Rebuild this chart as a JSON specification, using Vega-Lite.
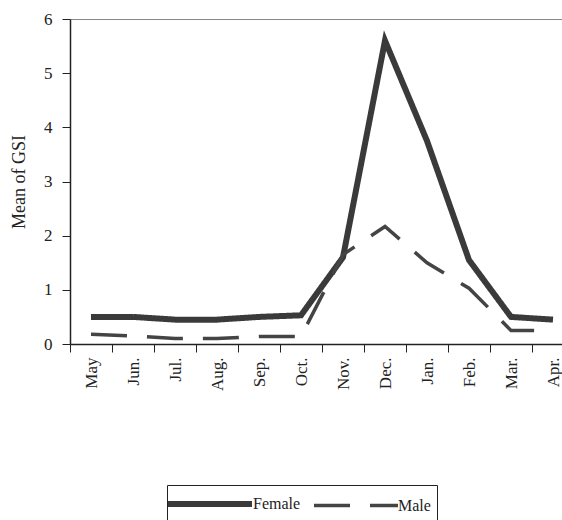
{
  "$schema": "https://vega.github.io/schema/vega-lite/v6.json",
  "autosize": {"type": "none"},
  "width": 492,
  "height": 325,
  "padding": {"left": 70, "top": 19, "right": 0, "bottom": 176},
  "background": "white",
  "config": {
    "view": {"stroke": null},
    "font": "Liberation Serif",
    "axis": {"labelFont": "Liberation Serif", "titleFont": "Liberation Serif", "labelColor": "#222", "titleColor": "#222", "domainColor": "#222", "tickColor": "#222"}
  },
  "data": {"values": [
    {"month": "May", "sex": "Female", "gsi": 0.5},
    {"month": "Jun.", "sex": "Female", "gsi": 0.5},
    {"month": "Jul.", "sex": "Female", "gsi": 0.45},
    {"month": "Aug.", "sex": "Female", "gsi": 0.45},
    {"month": "Sep.", "sex": "Female", "gsi": 0.5},
    {"month": "Oct.", "sex": "Female", "gsi": 0.53},
    {"month": "Nov.", "sex": "Female", "gsi": 1.6},
    {"month": "Dec.", "sex": "Female", "gsi": 5.6},
    {"month": "Jan.", "sex": "Female", "gsi": 3.75},
    {"month": "Feb.", "sex": "Female", "gsi": 1.55},
    {"month": "Mar.", "sex": "Female", "gsi": 0.5},
    {"month": "Apr.", "sex": "Female", "gsi": 0.45},
    {"month": "May", "sex": "Male", "gsi": 0.18},
    {"month": "Jun.", "sex": "Male", "gsi": 0.15},
    {"month": "Jul.", "sex": "Male", "gsi": 0.1},
    {"month": "Aug.", "sex": "Male", "gsi": 0.1},
    {"month": "Sep.", "sex": "Male", "gsi": 0.14},
    {"month": "Oct.", "sex": "Male", "gsi": 0.14},
    {"month": "Nov.", "sex": "Male", "gsi": 1.65},
    {"month": "Dec.", "sex": "Male", "gsi": 2.17},
    {"month": "Jan.", "sex": "Male", "gsi": 1.5},
    {"month": "Feb.", "sex": "Male", "gsi": 1.03},
    {"month": "Mar.", "sex": "Male", "gsi": 0.25},
    {"month": "Apr.", "sex": "Male", "gsi": 0.25}
  ]},
  "mark": {"type": "line", "strokeCap": "butt"},
  "encoding": {
    "x": {
      "field": "month", "type": "nominal", "sort": null,
      "scale": {"range": [0, 504], "paddingInner": 0, "paddingOuter": 0},
      "axis": {"title": null, "labelAngle": -90, "labelFontSize": 17, "tickBand": "extent", "tickSize": 8, "labelPadding": 5, "domainWidth": 1.5, "grid": false, "labelOverlap": false}
    },
    "y": {
      "field": "gsi", "type": "quantitative",
      "scale": {"domain": [0, 6], "nice": false},
      "axis": {"title": "Mean of GSI", "titleFontSize": 18, "titleFontWeight": "normal", "titlePadding": 15, "labelFontSize": 17, "values": [0, 1, 2, 3, 4, 5, 6], "labelOverlap": false, "tickSize": 8, "labelPadding": 10, "domainWidth": 1.5,
        "grid": true, "gridColor": "#888", "gridOpacity": {"condition": {"test": "datum.value === 6", "value": 1}, "value": 0}}
    },
    "strokeWidth": {"field": "sex", "type": "nominal", "scale": {"domain": ["Female", "Male"], "range": [6, 3.5]}},
    "strokeDash": {"field": "sex", "type": "nominal", "scale": {"domain": ["Female", "Male"], "range": [[1, 0], [36, 20]]}},
    "color": {
      "field": "sex", "type": "nominal",
      "scale": {"domain": ["Female", "Male"], "range": ["#3a3a3a", "#444444"]},
      "legend": {
        "title": null, "orient": "none", "direction": "horizontal", "legendX": 97, "legendY": 466,
        "symbolType": "M-1.8,0H6.6", "symbolSize": 400, "gridAlign": "all",
        "labelFont": "Liberation Serif", "labelFontSize": 16, "labelColor": "#222", "labelOffset": 54,
        "strokeColor": "#222", "padding": 6, "columnPadding": 6
      }
    }
  }
}
